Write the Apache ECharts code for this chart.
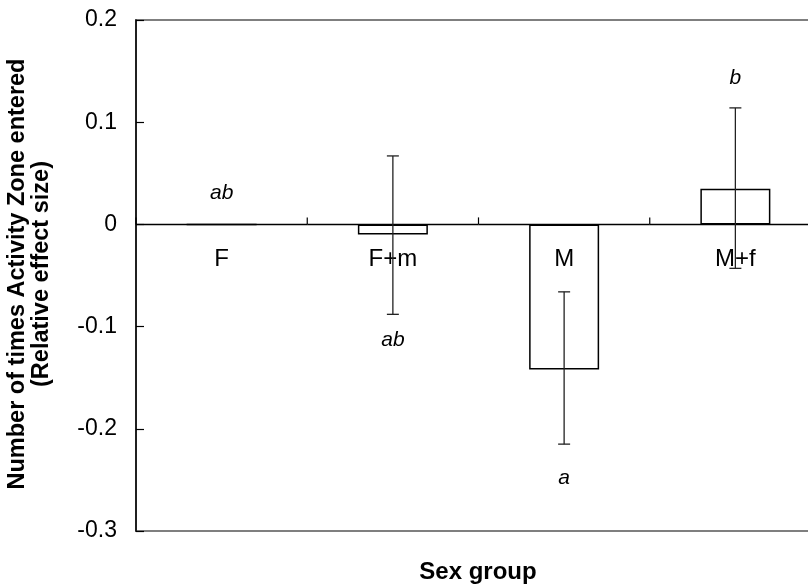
<!DOCTYPE html>
<html>
<head>
<meta charset="utf-8">
<script src="https://cdn.jsdelivr.net/npm/echarts@6/dist/echarts.min.js"></script>
<style>html,body{margin:0;padding:0;background:#fff}#c{width:808px;height:587px}</style>
</head>
<body>
<div id="c"></div>
<script>
var categories = ['F', 'F+m', 'M', 'M+f'];
var means = [0, -0.010, -0.142, 0.035];
var errLow = [null, -0.088, -0.215, -0.043];
var errHigh = [null, 0.067, -0.066, 0.114];
var letters = ['ab', 'ab', 'a', 'b'];
var letterY = [0.031, -0.113, -0.248, 0.143];
var yTicks = [-0.3, -0.2, -0.1, 0, 0.1, 0.2];

var FONT = 'Liberation Sans, Arial, sans-serif';
var chart = echarts.init(document.getElementById('c'), null, {renderer: 'canvas'});

var errData = [];
for (var i = 0; i < categories.length; i++) {
  if (errLow[i] !== null) errData.push([i, errLow[i], errHigh[i]]);
}
var letterData = letters.map(function (t, i) { return [i, letterY[i]]; });
var catData = categories.map(function (c, i) { return [i, 0]; });

chart.setOption({
  animation: false,
  grid: {left: 136, top: 20, width: 685, bottom: 56, outerBoundsMode: 'none', containLabel: false,
    show: true, borderColor: '#7f7f7f', borderWidth: 2, backgroundColor: 'transparent'},
  xAxis: {
    type: 'category',
    data: categories,
    axisLine: {show: false},
    axisTick: {show: false},
    axisLabel: {show: false},
    splitLine: {show: false}
  },
  yAxis: {
    type: 'value',
    min: yTicks[0], max: yTicks[yTicks.length - 1], interval: 0.1,
    axisLine: {show: true, lineStyle: {color: '#000', width: 1.5}},
    axisTick: {show: true, inside: true, length: 8, lineStyle: {color: '#000', width: 1.2}},
    axisLabel: {color: '#000', fontFamily: FONT, fontSize: 23, margin: 19,
      formatter: function (v) { return String(Math.round(v * 10) / 10); }},
    splitLine: {show: false}
  },
  graphic: [
    {type: 'text', position: [478, 572], style: {text: 'Sex group', font: 'bold 24px ' + FONT, fill: '#000', textAlign: 'center', textVerticalAlign: 'middle'}},
    {type: 'text', position: [18, 274], rotation: Math.PI / 2, style: {text: 'Number of times Activity Zone entered', font: 'bold 23.5px ' + FONT, fill: '#000', textAlign: 'center', textVerticalAlign: 'middle'}},
    {type: 'text', position: [42, 274], rotation: Math.PI / 2, style: {text: '(Relative effect size)', font: 'bold 23.5px ' + FONT, fill: '#000', textAlign: 'center', textVerticalAlign: 'middle'}}
  ],
  series: [
    {
      type: 'bar',
      data: means,
      barWidth: 70,
      itemStyle: {color: '#fff', borderColor: '#000', borderWidth: 1.5},
      z: 2
    },
    {
      // category axis drawn on the zero line: line, boundary ticks, labels
      type: 'custom',
      data: catData,
      z: 4,
      renderItem: function (params, api) {
        var i = api.value(0);
        var p = api.coord([i, 0]);
        var bw = api.size([1, 0])[0];
        var st = {stroke: '#000', lineWidth: 1.5};
        var left = p[0] - bw / 2, right = p[0] + bw / 2;
        var children = [
          {type: 'line', shape: {x1: left, y1: p[1], x2: right, y2: p[1]}, style: st},
          {type: 'line', shape: {x1: left, y1: p[1], x2: left, y2: p[1] - 7}, style: {stroke: '#000', lineWidth: 1.2}},
          {type: 'text', x: p[0], y: p[1] + 35, style: {text: categories[i], font: '24px ' + FONT, fill: '#000', align: 'center', verticalAlign: 'middle'}}
        ];
        if (i === categories.length - 1) {
          children.push({type: 'line', shape: {x1: right, y1: p[1], x2: right, y2: p[1] - 7}, style: {stroke: '#000', lineWidth: 1.2}});
        }
        return {type: 'group', children: children};
      }
    },
    {
      type: 'custom',
      data: errData,
      z: 5,
      renderItem: function (params, api) {
        var x = api.value(0);
        var lo = api.coord([x, api.value(1)]);
        var hi = api.coord([x, api.value(2)]);
        var hw = 6;
        var st = {stroke: '#222', lineWidth: 1.3};
        return {type: 'group', children: [
          {type: 'line', shape: {x1: lo[0], y1: lo[1], x2: hi[0], y2: hi[1]}, style: st},
          {type: 'line', shape: {x1: lo[0] - hw, y1: lo[1], x2: lo[0] + hw, y2: lo[1]}, style: st},
          {type: 'line', shape: {x1: hi[0] - hw, y1: hi[1], x2: hi[0] + hw, y2: hi[1]}, style: st}
        ]};
      }
    },
    {
      type: 'custom',
      data: letterData,
      z: 6,
      renderItem: function (params, api) {
        var p = api.coord([api.value(0), api.value(1)]);
        return {type: 'text', x: p[0], y: p[1],
          style: {text: letters[params.dataIndex], font: 'italic 21px ' + FONT, fill: '#000', align: 'center', verticalAlign: 'middle'}};
      }
    }
  ]
});
</script>
</body>
</html>
